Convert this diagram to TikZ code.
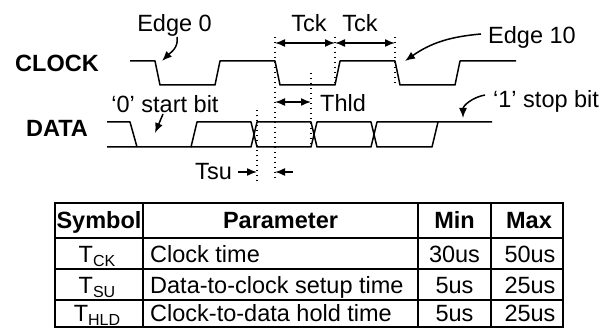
\documentclass[tikz,border=0pt]{standalone}
\usepackage{fontspec}
\setmainfont{Liberation Sans}
\usetikzlibrary{arrows.meta}

\newcommand{\tsub}[1]{T\raisebox{-4pt}{\fontsize{16}{18}\selectfont #1}}

\tikzset{
  sig/.style={line width=1.5pt, line join=round},
  dots/.style={line width=1.5pt, dash pattern=on 1.5pt off 3.5pt},
  dim/.style={line width=1.5pt, {Latex[length=10pt,width=8pt]}-{Latex[length=10pt,width=8pt]}},
  ptr/.style={line width=1.5pt, -{Latex[length=10pt,width=8pt]}},
  txt/.style={font=\fontsize{23.5}{28}\selectfont, inner sep=0pt},
  hdr/.style={font=\fontsize{23.5}{28}\selectfont\bfseries, inner sep=0pt},
  grid/.style={line width=1.5pt}
}

\begin{document}
\begin{tikzpicture}[x=1pt,y=-1pt]
\useasboundingbox (0,0) rectangle (604,328);

\node[hdr, anchor=base] (clk) at (57,72) {CLOCK};
\node[hdr, anchor=base] (dat) at (57,137) {DATA};

% clock
\draw[sig] (130,61) -- (155,61) -- (160,85) -- (215,85) -- (220,61) -- (275,61) -- (280,85) -- (335,85) -- (340,61) -- (395,61) -- (400,85) -- (455,85) -- (460,61) -- (516,61);

% data
\draw[sig] (107,122) -- (130,122) -- (137,147);
\draw[sig] (107,147) -- (191,147) -- (197,122) -- (251,122) -- (257,147) -- (311,147) -- (317,122) -- (371,122) -- (377,147) -- (432,147) -- (438,122) -- (492,122);
\draw[sig] (191,147) -- (251,147) -- (257,122) -- (311,122) -- (317,147) -- (371,147) -- (377,122) -- (438,122);

% guides
\draw[dots] (257,110) -- (257,182);
\draw[dots] (275,37) -- (275,178);
\draw[dots] (311,73) -- (311,145);
\draw[dots] (335,37) -- (335,85);
\draw[dots] (395,37) -- (395,85);

% timing
\coordinate (k0) at (275,43);
\coordinate (k1) at (335,43);
\coordinate (k2) at (395,43);
\draw[dim] (k0) -- (k1);
\draw[dim] (k1) -- (k2);
\node[txt, anchor=base] (tck1) at (309,32) {Tck};
\node[txt, anchor=base] (tck2) at (360,32) {Tck};

\coordinate (h0) at (275,102);
\coordinate (h1) at (311,102);
\draw[dim] (h0) -- (h1);
\node[txt, anchor=base west] (thld) at (320,112) {Thld};

\node[txt, anchor=base east] (tsu) at (232,180) {Tsu};
\coordinate (s0) at (238,172);
\coordinate (s1) at (257,172);
\coordinate (s2) at (293,172);
\coordinate (s3) at (275,172);
\draw[ptr] (s0) -- (s1);
\draw[ptr] (s2) -- (s3);

% edge labels
\node[txt, anchor=base] (e0) at (174.5,32) {Edge 0};
\coordinate (e0a) at (177,37);
\coordinate (e0b) at (162,61);
\draw[ptr] (e0a) to[out=-80,in=45] (e0b);

\node[txt, anchor=base west] (e10) at (488,44) {Edge 10};
\coordinate (e10a) at (481,34);
\coordinate (e10b) at (405,61);
\draw[ptr] (e10a) to[out=185,in=35] (e10b);

\node[txt, anchor=base] (st) at (165,113) {‘0’ start bit};
\coordinate (sta) at (163,114);
\coordinate (stb) at (155,133);
\draw[ptr] (sta) -- (stb);

\node[txt, anchor=base west] (sp) at (493,108) {‘1’ stop bit};
\coordinate (spa) at (485,95);
\coordinate (spb) at (463,118);
\draw[ptr] (spa) to[out=190,in=90] (spb);

% table
\draw[grid] (55,203) rectangle (563,327);
\foreach \y in {238,269,300} \draw[grid] (55,\y) -- (563,\y);
\foreach \x in {143,418,491} \draw[grid] (\x,203) -- (\x,327);

\node[hdr, anchor=base] (hsym) at (99,229) {Symbol};
\node[hdr, anchor=base] (hpar) at (280.5,229) {Parameter};
\node[hdr, anchor=base] (hmin) at (454.5,229) {Min};
\node[hdr, anchor=base] (hmax) at (529,229) {Max};

\node[txt, anchor=base] (sck) at (97,262) {\tsub{CK}};
\node[txt, anchor=base] (ssu) at (97,293) {\tsub{SU}};
\node[txt, anchor=base] (shl) at (97,321) {\tsub{HLD}};

\node[txt, anchor=base west] (pck) at (150,262) {Clock time};
\node[txt, anchor=base west] (psu) at (150,293) {Data-to-clock setup time};
\node[txt, anchor=base west] (phl) at (150,321) {Clock-to-data hold time};

\node[txt, anchor=base] (nck) at (454.5,262) {30us};
\node[txt, anchor=base] (nsu) at (454.5,293) {5us};
\node[txt, anchor=base] (nhl) at (454.5,321) {5us};

\node[txt, anchor=base] (xck) at (530,262) {50us};
\node[txt, anchor=base] (xsu) at (530,293) {25us};
\node[txt, anchor=base] (xhl) at (530,321) {25us};

\end{tikzpicture}
\end{document}
